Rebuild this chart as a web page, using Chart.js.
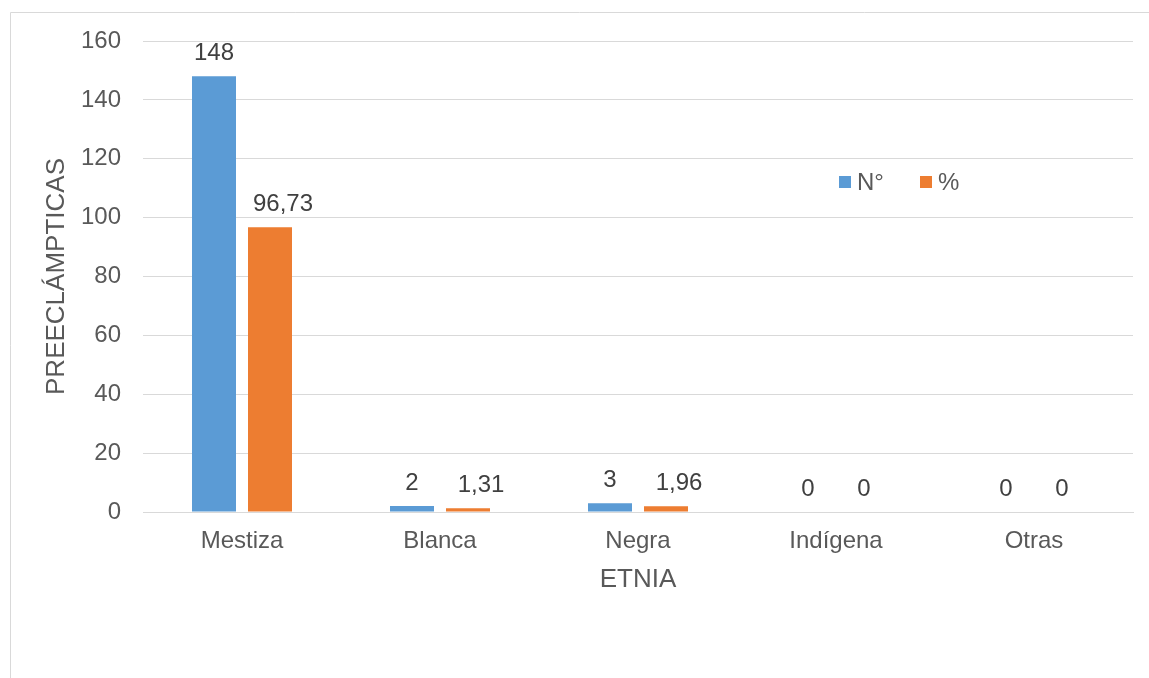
<!DOCTYPE html>
<html>
<head>
<meta charset="utf-8">
<script src="https://cdn.jsdelivr.net/npm/chart.js@4.4.1/dist/chart.umd.min.js"></script>
<style>
  html, body { margin: 0; padding: 0; background: #ffffff; }
  #wrap { position: relative; width: 1149px; height: 678px; }
  canvas { display: block; }
</style>
</head>
<body>
<div id="wrap"><canvas id="c" width="1149" height="678"></canvas></div>
<script>
const categories = ["Mestiza", "Blanca", "Negra", "Indígena", "Otras"];
const seriesNames = ["N°", "%"];
const countValues = [148, 2, 3, 0, 0];
const percentValues = [96.73, 1.31, 1.96, 0, 0];
const percentLabels = ["96,73", "1,31", "1,96", "0", "0"];
const yTicks = [0, 20, 40, 60, 80, 100, 120, 140, 160];
const colors = ["#5B9BD5", "#ED7D31"];

const FONT = "'Liberation Sans', Arial, sans-serif";
const TXT = "#595959";

const framePlugin = {
  id: 'frame',
  beforeDraw(chart) {
    const ctx = chart.ctx;
    ctx.save();
    ctx.strokeStyle = '#d9d9d9';
    ctx.lineWidth = 1;
    ctx.beginPath();
    ctx.moveTo(10.5, 678);
    ctx.lineTo(10.5, 12.5);
    ctx.lineTo(1149, 12.5);
    ctx.stroke();
    ctx.restore();
  }
};

const labelPlugin = {
  id: 'valueLabels',
  afterDatasetsDraw(chart) {
    const ctx = chart.ctx;
    ctx.save();
    ctx.font = "24px " + FONT;
    ctx.fillStyle = "#404040";
    ctx.textAlign = 'center';
    ctx.textBaseline = 'middle';
    chart.data.datasets.forEach((ds, di) => {
      const meta = chart.getDatasetMeta(di);
      meta.data.forEach((bar, i) => {
        const txt = ds.valueLabels[i];
        // the non-zero "%" labels sit a little to the right of their bars
        const dx = (di === 1 && ds.data[i] !== 0) ? 13 : 0;
        ctx.fillText(txt, bar.x + dx, bar.y - 23);
      });
    });
    // legend
    ctx.font = "24px " + FONT;
    ctx.textAlign = 'left';
    const legendX = [839, 920];
    chart.data.datasets.forEach((ds, di) => {
      ctx.fillStyle = ds.backgroundColor;
      ctx.fillRect(legendX[di], 176, 12, 12);
      ctx.fillStyle = TXT;
      ctx.fillText(ds.label, legendX[di] + 18, 183);
    });
    ctx.restore();
  }
};

new Chart(document.getElementById('c'), {
  type: 'bar',
  data: {
    labels: categories,
    datasets: [
      { label: seriesNames[0], data: countValues, backgroundColor: colors[0],
        valueLabels: countValues.map(String) },
      { label: seriesNames[1], data: percentValues, backgroundColor: colors[1],
        valueLabels: percentLabels }
    ]
  },
  options: {
    responsive: false,
    animation: false,
    devicePixelRatio: 1,
    layout: { padding: { left: 41, right: 16, top: 41, bottom: 0 } },
    plugins: { legend: { display: false }, tooltip: { enabled: false } },
    datasets: { bar: { categoryPercentage: 0.5657, barPercentage: 0.7857 } },
    scales: {
      x: {
        grid: { display: false, drawTicks: false },
        border: { display: true, color: '#d9d9d9' },
        ticks: { color: TXT, font: { family: FONT, size: 24 }, padding: 15 },
        title: { display: true, text: 'ETNIA', color: TXT,
                 font: { family: FONT, size: 26 }, padding: { top: 0, bottom: 83 } },
        afterFit(s) { s.height = 166; }
      },
      y: {
        min: 0, max: 160,
        afterBuildTicks(s) { s.ticks = yTicks.map(v => ({ value: v })); },
        grid: { color: '#d9d9d9', drawTicks: false },
        border: { display: false },
        ticks: { color: TXT, font: { family: FONT, size: 24 }, padding: 22 },
        title: { display: true, text: 'PREECLÁMPTICAS', color: TXT,
                 font: { family: FONT, size: 26 }, padding: { top: 0, bottom: 0 } },
        afterFit(s) { s.width = 102; }
      }
    }
  },
  plugins: [framePlugin, labelPlugin]
});
</script>
</body>
</html>
